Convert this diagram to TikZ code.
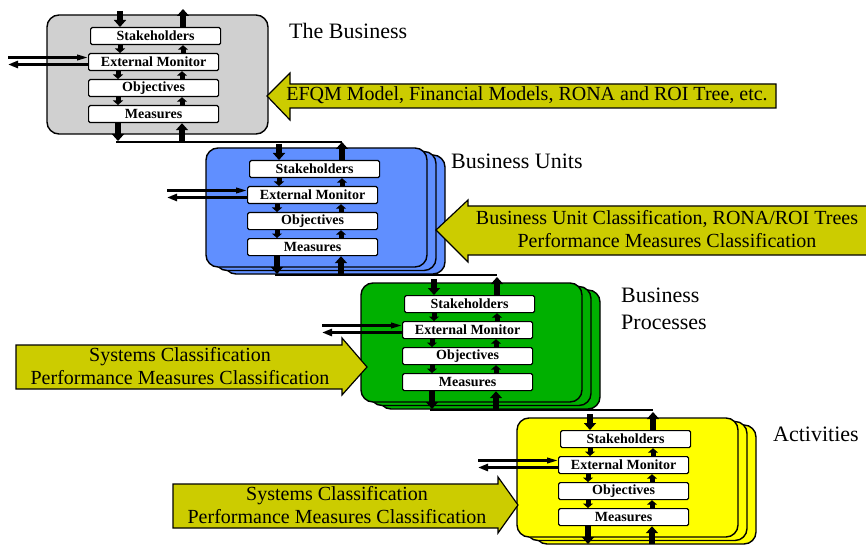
\documentclass[tikz,border=0pt]{standalone}
\usepackage{fontspec}
\setmainfont{Liberation Serif}
\usetikzlibrary{arrows.meta,calc}
\definecolor{panelgray}{RGB}{208,208,208}
\definecolor{panelblue}{RGB}{96,143,255}
\definecolor{panelgreen}{RGB}{0,176,0}
\definecolor{panelyellow}{RGB}{255,255,0}
\definecolor{olivefill}{RGB}{204,204,0}
\tikzset{
 panel/.style={draw=black, line width=1.4pt, rounded corners=12pt},
 inbox/.style={draw=black, fill=white, line width=1.2pt, rounded corners=1.5pt, minimum width=130pt, minimum height=17pt, inner sep=0pt, font=\fontsize{14}{16}\selectfont\bfseries, anchor=north west},
 bigarr/.style={line width=6pt, -{Triangle[width=12pt,length=7pt]}},
 smallarr/.style={line width=5pt, -{Triangle[width=10pt,length=4.5pt]}},
 sidearrin/.style={line width=2.2pt, -{Triangle[width=5.5pt,length=11pt]}},
 sidearrout/.style={line width=2.8pt, -{Triangle[width=7pt,length=10pt]}},
 conn/.style={line width=1.3pt},
 olivearrow/.style={draw=black, fill=olivefill, line width=1.2pt},
 oltext/.style={font=\fontsize{20}{23}\selectfont, align=center, inner sep=0pt},
 lbl/.style={font=\fontsize{22}{27}\selectfont, anchor=west, inner sep=0pt, align=left},
}
\begin{document}
\begin{tikzpicture}[x=1pt,y=-1pt]
\useasboundingbox (0,0) rectangle (866,545);
\clip (0,0) rectangle (866,545);
\foreach \i/\X/\Y/\col in {1/47/15/panelgray,2/206/148/panelblue,3/361/283/panelgreen,4/517/418/panelyellow}{
 \begin{scope}[shift={(\X,\Y)}]
  \ifnum\i>1
   \path[panel,fill=\col] (18,7) rectangle ++(221,119);
   \path[panel,fill=\col] (9,3.5) rectangle ++(221,119);
  \fi
  \path[panel,fill=\col] (0,0) rectangle (221,119);
  \node[inbox] (s\i) at (43,12) {Stakeholders};
  \node[inbox] (e\i) at (41,38) {External Monitor};
  \node[inbox] (o\i) at (41,64) {Objectives};
  \node[inbox] (m\i) at (41,90) {Measures};
  % top arrows
  \coordinate (ti\i) at (73,-4);
  \coordinate (to\i) at (136,-6);
  \draw[bigarr] (ti\i) -- (ti\i |- s\i.north);
  \draw[bigarr] (to\i |- s\i.north) -- (to\i);
  % arrows between boxes
  \draw[smallarr] ([xshift=30pt]s\i.south west) -- ([xshift=30pt]s\i.south west |- e\i.north);
  \draw[smallarr] ([xshift=93pt]s\i.south west |- e\i.north) -- ([xshift=93pt]s\i.south west);
  \draw[smallarr] ([xshift=30pt]e\i.south west) -- ([xshift=30pt]e\i.south west |- o\i.north);
  \draw[smallarr] ([xshift=94pt]e\i.south west |- o\i.north) -- ([xshift=94pt]e\i.south west);
  \draw[smallarr] ([xshift=30pt]o\i.south west) -- ([xshift=30pt]o\i.south west |- m\i.north);
  \draw[smallarr] ([xshift=94pt]o\i.south west |- m\i.north) -- ([xshift=94pt]o\i.south west);
  % bottom arrows
  \coordinate (bo\i) at (71,126);
  \coordinate (bi\i) at (135,126);
  \draw[bigarr] (bo\i |- m\i.south) -- (bo\i);
  \draw[bigarr] (bi\i) -- (bi\i |- m\i.south);
  % side arrows
  \coordinate (sa\i) at (-39,42.5);
  \coordinate (sb\i) at (-39,49.5);
  \draw[sidearrin] (sa\i) -- (sa\i -| e\i.west);
  \draw[sidearrout] (sb\i -| e\i.west) -- (sb\i);
  % connector start
  \coordinate (cl\i) at (69,127);
 \end{scope}
}
\foreach \i/\j in {1/2,2/3,3/4} \draw[conn] (cl\i) -- (cl\i -| to\j);
% olive arrows
\draw[olivearrow] (267,96) -- (290,73) -- (290,84) -- (776,84) -- (776,108) -- (290,108) -- (290,120) -- cycle;
\node[oltext] (t1) at (527,95) {EFQM Model, Financial Models, RONA and ROI Tree, etc.};
\draw[olivearrow] (436,230) -- (468,200) -- (468,206) -- (875,206) -- (875,255) -- (468,255) -- (468,262) -- cycle;
\node[oltext] (t2) at (667,229.3) {Business Unit Classification, RONA/ROI Trees\\Performance Measures Classification};
\draw[olivearrow] (16,345) -- (342,345) -- (342,338) -- (367,367) -- (342,395) -- (342,389) -- (16,389) -- cycle;
\node[oltext] (t3) at (180,366.3) {Systems Classification\\Performance Measures Classification};
\draw[olivearrow] (173,484) -- (498,484) -- (498,477) -- (518,505) -- (498,533) -- (498,528) -- (173,528) -- cycle;
\node[oltext] (t4) at (337,505) {Systems Classification\\Performance Measures Classification};
% labels
\node[lbl] (l1) at (289,31) {The Business};
\node[lbl] (l2) at (451,161) {Business Units};
\node[lbl] (l3) at (621,308.5) {Business\\Processes};
\node[lbl] (l4) at (773,434) {Activities};
\end{tikzpicture}
\end{document}
